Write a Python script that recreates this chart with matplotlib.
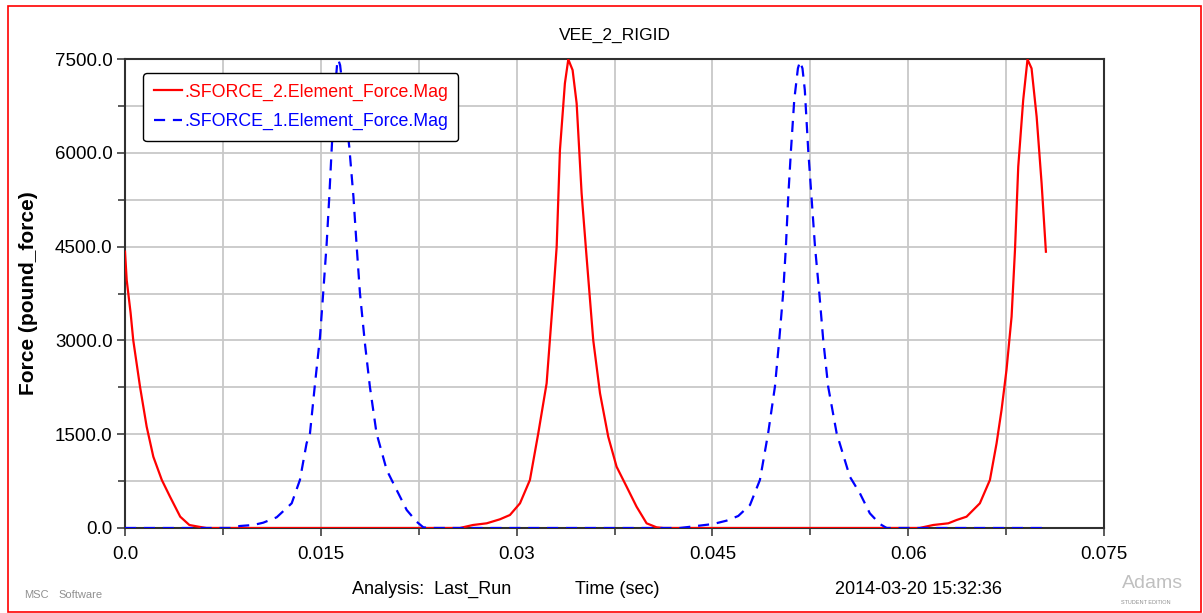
import numpy as np
import matplotlib.pyplot as plt
from matplotlib.patches import Rectangle

plt.rcParams['font.family'] = ['Liberation Sans', 'DejaVu Sans']

# .SFORCE_2.Element_Force.Mag
t_sforce2 = [0.0, 0.00013, 0.00043, 0.00063, 0.00115, 0.00166, 0.00217, 0.00282, 0.00345,
             0.00423, 0.00493, 0.00563, 0.00624,
             0.02565, 0.02666, 0.02771, 0.02872, 0.02949, 0.03026, 0.03102, 0.03166, 0.0323,
             0.03255, 0.03282, 0.03307, 0.03332, 0.0337, 0.03396, 0.03429, 0.0346, 0.03498,
             0.03536, 0.03587, 0.03639, 0.03702, 0.03766, 0.03843, 0.03919, 0.03996, 0.04072,
             0.04125,
             0.06086, 0.06192, 0.06307, 0.06371, 0.06447, 0.06549, 0.06626, 0.06677, 0.06715,
             0.06753, 0.06792, 0.06818, 0.06843, 0.06881, 0.06914, 0.06945, 0.06984, 0.07022,
             0.07055]
f_sforce2 = [4420, 3966, 3438, 3006, 2260, 1620, 1140, 768, 500,
             181, 48, 21, 0,
             0, 48, 75, 139, 208, 395, 768, 1514, 2314,
             3006, 3753, 4499, 6044, 7111, 7494, 7323, 6790, 5352,
             4338, 3006, 2154, 1460, 980, 660, 341, 75, 11,
             0,
             0, 48, 75, 128, 181, 395, 768, 1354, 1887,
             2527, 3380, 4445, 5778, 6844, 7494, 7350, 6577, 5511,
             4418]

# .SFORCE_1.Element_Force.Mag
t_sforce1 = [0.0, 0.00805, 0.00881, 0.00983, 0.01059, 0.01162, 0.01277, 0.0134, 0.01391,
             0.01417, 0.01456, 0.01494, 0.0152, 0.01545, 0.01565, 0.01583, 0.01605, 0.01625,
             0.01634, 0.01648, 0.0167, 0.01718, 0.0175, 0.01775, 0.018, 0.01838, 0.01876,
             0.01927, 0.02005, 0.02081, 0.02158, 0.02234, 0.02285, 0.02334,
             0.04251, 0.04506, 0.04608, 0.04698, 0.04788, 0.04864, 0.04927, 0.04979, 0.05012,
             0.05042, 0.05063, 0.05081, 0.05102, 0.05127, 0.05155, 0.05171, 0.0519, 0.05208,
             0.05234, 0.05259, 0.05286, 0.05319, 0.05349, 0.05387, 0.05452, 0.05553, 0.0563,
             0.05706, 0.05783, 0.05835, 0.0705]
f_sforce1 = [0, 0, 32, 48, 85, 171, 395, 768, 1354,
             1514, 2314, 3059, 3806, 4552, 5298, 6044, 6900, 7420,
             7490, 7400, 7000, 6097, 5298, 4499, 3753, 2953, 2260,
             1514, 927, 608, 288, 101, 11, 0,
             0, 64, 117, 192, 368, 768, 1514, 2260, 3006,
             3753, 4499, 5298, 6044, 6844, 7350, 7460, 7350, 7003,
             6044, 5298, 4499, 3753, 3006, 2260, 1514, 820, 555,
             235, 64, 0, 0]

x_ticks = [0.0, 0.015, 0.03, 0.045, 0.06, 0.075]
x_ticklabels = ['0.0', '0.015', '0.03', '0.045', '0.06', '0.075']
y_ticks = [0, 1500, 3000, 4500, 6000, 7500]
y_ticklabels = ['0.0', '1500.0', '3000.0', '4500.0', '6000.0', '7500.0']

W, H = 1203, 613
fig = plt.figure(figsize=(W / 100, H / 100), dpi=100)
ax = fig.add_axes([125 / W, (H - 528) / H, 979 / W, 469 / H])

ax.plot(t_sforce2, f_sforce2, color='red', lw=1.6, zorder=3,
        label='.SFORCE_2.Element_Force.Mag')
ax.plot(t_sforce1, f_sforce1, color='blue', lw=1.6, ls=(0, (5, 3.5)), zorder=4,
        label='.SFORCE_1.Element_Force.Mag')

ax.set_xlim(0, 0.075)
ax.set_ylim(0, 7500)
ax.set_xticks(x_ticks)
ax.set_xticklabels(x_ticklabels)
ax.set_yticks(y_ticks)
ax.set_yticklabels(y_ticklabels)
ax.set_xticks(np.arange(0.0075, 0.075, 0.015), minor=True)
ax.set_yticks(np.arange(750, 7500, 1500), minor=True)
ax.tick_params(axis='both', which='major', labelsize=13.5, length=6, width=1.2,
               color='#404040')
ax.tick_params(axis='y', which='major', pad=3)
ax.tick_params(axis='x', which='major', pad=7)
ax.tick_params(axis='both', which='minor', length=5, width=1.2, color='#404040')
ax.grid(True, which='both', color='#c8c8c8', lw=1.3, zorder=0)
ax.set_axisbelow(True)
for side in ['left', 'bottom', 'top', 'right']:
    ax.spines[side].set_color('#303030')
    ax.spines[side].set_linewidth(1.5)

ax.set_title('VEE_2_RIGID', fontsize=12.5, pad=14)
ax.set_ylabel('Force (pound_force)', fontsize=15, fontweight='bold')
ax.yaxis.set_label_coords((38 - 125) / 979, 0.5)

leg = ax.legend(loc='upper left', bbox_to_anchor=(18 / 979, (528 - 73) / 469),
                borderaxespad=0, fontsize=12.8, frameon=True, fancybox=True,
                edgecolor='black', framealpha=1, handlelength=1.6,
                handletextpad=0.1, labelspacing=0.7, borderpad=0.6,
                labelcolor='linecolor')
leg.get_frame().set_linewidth(1.0)

# footer line
fy = 1 - 589 / H
fig.text(352 / W, fy, 'Analysis:  Last_Run', fontsize=13, va='center')
fig.text(575 / W, fy, 'Time (sec)', fontsize=13, va='center')
fig.text(835 / W, fy, '2014-03-20 15:32:36', fontsize=13, va='center')
fig.text(24 / W, 1 - 595 / H, 'MSC', fontsize=8, color='#909090', va='center')
fig.text(58 / W, 1 - 595 / H, 'Software', fontsize=8, color='#909090', va='center')
fig.text(1122 / W, 1 - 584 / H, 'Adams', fontsize=14, color='#c0c0c0', va='center')
fig.text(1121 / W, 1 - 603 / H, 'STUDENT EDITION', fontsize=4, color='#909090', va='center')

# outer frame
fig.patches.append(Rectangle((8 / W, 1 / H), 1193 / W, 606 / H, transform=fig.transFigure,
                             fill=False, edgecolor='red', lw=1.2))

fig.savefig('out.png', dpi=100)
